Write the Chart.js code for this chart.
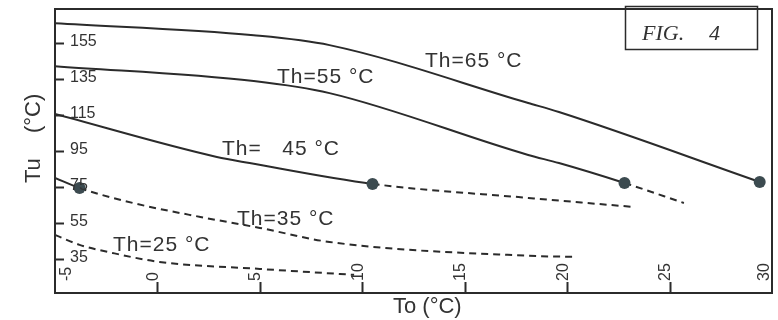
<!DOCTYPE html>
<html>
<head>
<meta charset="utf-8">
<script src="https://cdn.jsdelivr.net/npm/chart.js@4/dist/chart.umd.min.js"></script>
<style>
  html, body { margin: 0; padding: 0; background: #fff; }
  #wrap { width: 778px; height: 320px; }
</style>
</head>
<body>
<div id="wrap"><canvas id="c" width="778" height="320"></canvas></div>
<script>
// Axis ticks
const xTicks = [-5, 0, 5, 10, 15, 20, 25, 30];
const yTicks = [35, 55, 75, 95, 115, 135, 155];

// Tu (°C) against To (°C) for each heating temperature Th
const th65T0 = [-5, 4.7, 8.4, 18.1, 19.6, 29.4];
const th65Tu = [166.1, 159.4, 153.9, 121.7, 116.7, 77.8];

const th55T0 = [-5, 4.7, 8.4, 18.1, 19.6, 22.8, 25.7];
const th55Tu = [142.2, 133.9, 127.2, 92.8, 88.3, 77.2, 66.1];

const th45T0 = [-5, 2.9, 4.5, 10.5, 18.1, 23.2];
const th45Tu = [115.6, 91.7, 88.3, 76.7, 68.9, 63.9];

const th35T0 = [-5, -3.8, -1.2, 2.1, 5.0, 8.4, 18.1, 20.4];
const th35Tu = [80.0, 74.4, 66.1, 58.3, 52.2, 44.4, 36.7, 36.1];

const th25T0 = [-5, -3.8, -2.2, 0.1, 5.0, 9.6];
const th25Tu = [48.3, 42.8, 38.3, 33.3, 29.4, 26.1];

// To of the dotted limit point on each curve (null: whole curve dashed)
const limitT0 = [29.4, 22.8, 10.5, -3.8, null];
const curveNames = ['Th=65 °C', 'Th=55 °C', 'Th=   45 °C', 'Th=35 °C', 'Th=25 °C'];

const LINE = '#2b2b2b';
const DOT = '#3c4b50';
const SANS = '"Liberation Sans", Arial, sans-serif';

const curves = [
  [th65T0, th65Tu], [th55T0, th55Tu], [th45T0, th45Tu], [th35T0, th35Tu], [th25T0, th25Tu]
];

const datasets = curves.map(([t0, tu], i) => {
  const end = limitT0[i];
  return {
    label: curveNames[i],
    data: t0.map((x, k) => ({ x: x, y: tu[k] })),
    borderColor: LINE,
    borderWidth: 2,
    cubicInterpolationMode: 'monotone',
    pointRadius: t0.map(x => (end !== null && x === end) ? 6 : 0),
    pointBackgroundColor: DOT,
    pointBorderWidth: 0,
    fill: false,
    segment: {
      borderDash: ctx => (end === null || ctx.p0.parsed.x >= end - 1e-9) ? [7, 5] : undefined
    }
  };
});

// Frame, inward tick marks with their labels, axis titles, curve labels, figure tag
const decorations = {
  id: 'decorations',
  afterDraw(chart) {
    const ctx = chart.ctx;
    const a = chart.chartArea;
    const xs = chart.scales.x, ys = chart.scales.y;
    ctx.save();
    ctx.strokeStyle = LINE;
    ctx.fillStyle = '#333';

    // plot frame
    ctx.lineWidth = 2;
    ctx.strokeRect(a.left, a.top, a.right - a.left, a.bottom - a.top);

    // Tu ticks pointing inward, labels inside the frame
    ctx.font = '16px ' + SANS;
    ctx.textAlign = 'left';
    ctx.textBaseline = 'middle';
    yTicks.forEach(v => {
      const py = Math.round(ys.getPixelForValue(v)) + 0.5;
      ctx.beginPath();
      ctx.moveTo(a.left, py);
      ctx.lineTo(a.left + 9, py);
      ctx.stroke();
      ctx.fillText(String(v), a.left + 15, py - 2);
    });

    // To ticks pointing inward and rotated labels
    ctx.font = '16px ' + SANS;
    xTicks.forEach(v => {
      const px = xs.getPixelForValue(v);
      if (v > xTicks[0] && v < xTicks[xTicks.length - 1]) {
        ctx.beginPath();
        ctx.moveTo(Math.round(px) + 0.5, a.bottom);
        ctx.lineTo(Math.round(px) + 0.5, a.bottom - 11);
        ctx.stroke();
      }
      const lx = Math.min(Math.max(px - 4, a.left + 12), a.right - 7);
      ctx.save();
      ctx.translate(lx, a.bottom - 12);
      ctx.rotate(-Math.PI / 2);
      ctx.fillText(String(v), 0, 0);
      ctx.restore();
    });

    // axis titles
    ctx.font = '22px ' + SANS;
    ctx.textBaseline = 'alphabetic';
    ctx.fillText('To (°C)', 393, 313);
    ctx.save();
    ctx.translate(40, 183);
    ctx.rotate(-Math.PI / 2);
    ctx.fillText('Tu', 0, 0);
    ctx.fillText('(°C)', 50, 0);
    ctx.restore();

    // curve labels
    ctx.font = '21px ' + SANS;
    ctx.letterSpacing = '1px';
    ctx.textBaseline = 'middle';
    const spots = [[425, 61], [277, 77], [222, 149], [237, 219], [113, 245]];
    curveNames.forEach((t, i) => ctx.fillText(t, spots[i][0], spots[i][1]));
    ctx.letterSpacing = '0px';

    // figure tag
    ctx.lineWidth = 1.5;
    ctx.strokeRect(625.5, 6.5, 132, 43);
    ctx.font = 'italic 22px "Liberation Serif", "DejaVu Serif", serif';
    ctx.textBaseline = 'alphabetic';
    ctx.fillText('FIG.', 642, 40);
    ctx.fillText('4', 709, 40);
    ctx.restore();
  }
};

new Chart(document.getElementById('c'), {
  type: 'line',
  data: { datasets: datasets },
  options: {
    responsive: false,
    animation: false,
    devicePixelRatio: 1,
    layout: { padding: { left: 55, top: 9, right: 4, bottom: 27 } },
    plugins: { legend: { display: false }, tooltip: { enabled: false } },
    scales: {
      x: { type: 'linear', min: -5, max: 30, display: false },
      y: { type: 'linear', min: 16, max: 174, display: false }
    }
  },
  plugins: [decorations]
});
</script>
</body>
</html>
